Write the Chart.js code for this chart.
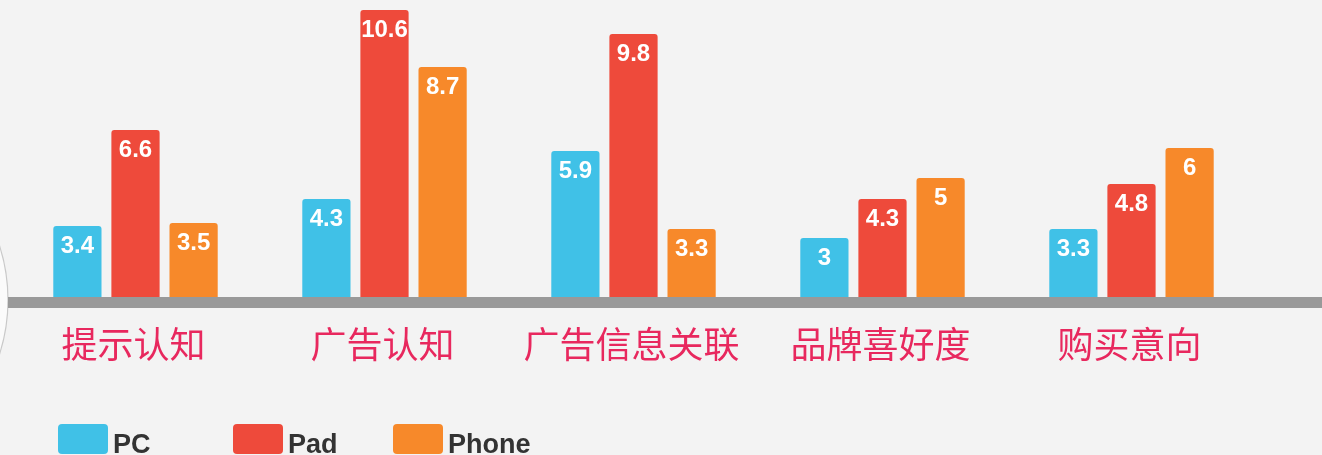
<!DOCTYPE html>
<html>
<head>
<meta charset="utf-8">
<script src="https://cdn.jsdelivr.net/npm/chart.js@4/dist/chart.umd.min.js"></script>
<style>
  html, body { margin: 0; padding: 0; background: #f3f3f3; }
  canvas { display: block; }
</style>
</head>
<body>
<canvas id="barChart" width="1322" height="455"></canvas>
<script>
const categories = ["提示认知", "广告认知", "广告信息关联", "品牌喜好度", "购买意向"];
const seriesNames = ["PC", "Pad", "Phone"];
const pcValues = [3.4, 4.3, 5.9, 3, 3.3];
const padValues = [6.6, 10.6, 9.8, 4.3, 4.8];
const phoneValues = [3.5, 8.7, 3.3, 5, 6];
const seriesColors = ["#40c1e7", "#ee4a3b", "#f7892a"];

const BASELINE = 298;

// grey shelf under the bars + the faint arc at the left edge
const shelfPlugin = {
  id: "shelf",
  beforeDraw(chart) {
    const ctx = chart.ctx;
    ctx.save();
    ctx.beginPath();
    ctx.arc(-170, 300, 178, 0, Math.PI * 2);
    ctx.fillStyle = "#fbfbfb";
    ctx.fill();
    ctx.strokeStyle = "#c9c9c9";
    ctx.lineWidth = 1.2;
    ctx.stroke();
    ctx.restore();
  },
  afterDatasetsDraw(chart) {
    const ctx = chart.ctx;
    const y = chart.scales.y.getPixelForValue(chart.scales.y.min);
    ctx.save();
    ctx.fillStyle = "#999999";
    ctx.fillRect(8, y - 1, chart.width - 8, 11);
    ctx.restore();
  },
};

// white value labels inside the top of each bar
const valueLabelPlugin = {
  id: "valueLabels",
  afterDatasetsDraw(chart) {
    const ctx = chart.ctx;
    ctx.save();
    ctx.fillStyle = "#ffffff";
    ctx.font = "bold 24px 'Liberation Sans', Arial, sans-serif";
    ctx.textAlign = "center";
    ctx.textBaseline = "middle";
    chart.data.datasets.forEach((ds, di) => {
      chart.getDatasetMeta(di).data.forEach((bar, i) => {
        ctx.fillText(String(ds.data[i]), bar.x, bar.y + 20);
      });
    });
    ctx.restore();
  },
};

// legend drawn along the bottom edge
const bottomLegendPlugin = {
  id: "bottomLegend",
  afterDraw(chart) {
    const ctx = chart.ctx;
    const swatchX = [58, 233, 393];
    ctx.save();
    ctx.font = "bold 27px 'Liberation Sans', Arial, sans-serif";
    ctx.textBaseline = "alphabetic";
    ctx.textAlign = "left";
    chart.data.datasets.forEach((ds, i) => {
      const x = swatchX[i];
      ctx.fillStyle = ds.backgroundColor;
      ctx.beginPath();
      ctx.roundRect(x, 424, 50, 30, 4);
      ctx.fill();
      ctx.fillStyle = "#333333";
      ctx.fillText(ds.label, x + 55, 453);
    });
    ctx.restore();
  },
};

const ctx = document.getElementById("barChart").getContext("2d");
new Chart(ctx, {
  type: "bar",
  data: {
    labels: categories,
    datasets: [pcValues, padValues, phoneValues].map((vals, i) => ({
      label: seriesNames[i],
      data: vals,
      backgroundColor: seriesColors[i],
      borderRadius: { topLeft: 3, topRight: 3 },
      borderSkipped: false,
      categoryPercentage: 0.7,
      barPercentage: 0.83,
    })),
  },
  options: {
    responsive: false,
    animation: false,
    layout: { padding: { top: 10, left: 11, right: 66, bottom: 0 } },
    scales: {
      x: {
        grid: { display: false },
        border: { display: false },
        ticks: {
          color: "#e8285e",
          padding: 17,
          labelOffset: -2,
          font: { size: 36, family: "'Noto Sans CJK SC', sans-serif" },
          maxRotation: 0,
        },
        afterFit(scale) {
          scale.height = 455 - BASELINE;
        },
      },
      y: {
        display: false,
        min: 1,
        max: 10.6,
      },
    },
    plugins: {
      legend: { display: false },
      tooltip: { enabled: false },
    },
  },
  plugins: [shelfPlugin, valueLabelPlugin, bottomLegendPlugin],
});
</script>
</body>
</html>
